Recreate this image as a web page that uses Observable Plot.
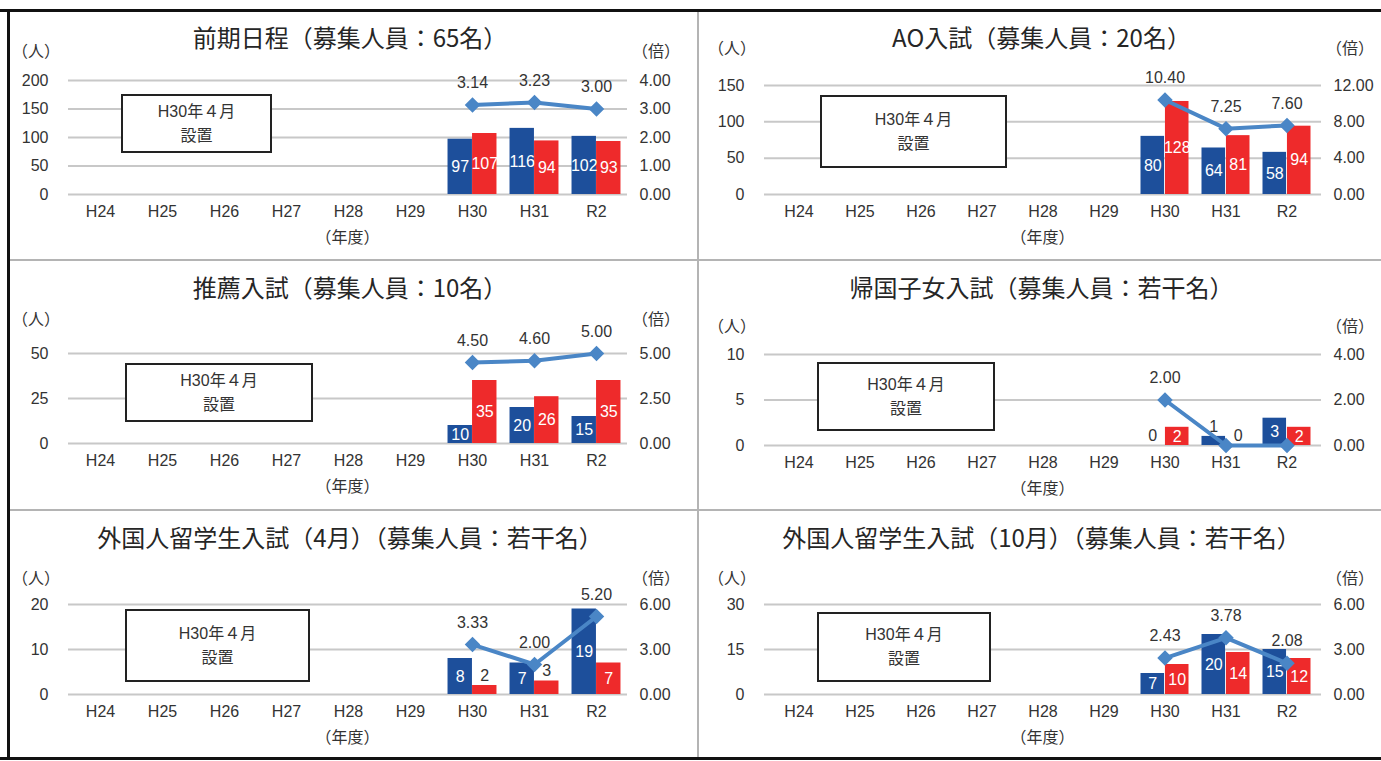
<!DOCTYPE html>
<html><head><meta charset="utf-8">
<script src="https://cdn.jsdelivr.net/npm/d3@7"></script>
<script src="https://cdn.jsdelivr.net/npm/@observablehq/plot@0.6"></script>
<style>
body{margin:0;background:#fff;}
#root{position:relative;width:1381px;height:761px;overflow:hidden;font-family:"Liberation Sans","Noto Sans CJK JP",sans-serif;color:#333;}
.abs{position:absolute;}
.title{font-family:"Noto Sans CJK JP",sans-serif;font-size:24px;color:#262626;white-space:nowrap;transform:translate(-50%,-50%);line-height:1;}
.unit{font-family:"Noto Sans CJK JP",sans-serif;font-size:16px;color:#333;white-space:nowrap;transform:translateY(-50%);line-height:1;}
.xunit{font-family:"Noto Sans CJK JP",sans-serif;font-size:16px;color:#333;white-space:nowrap;transform:translate(-50%,-50%);line-height:1;}
.note{border:2px solid #222;background:#fff;box-sizing:border-box;display:flex;flex-direction:column;align-items:center;justify-content:center;font-size:16px;line-height:24px;color:#333;font-family:"Liberation Sans","Noto Sans CJK JP",sans-serif;}
.line{background:#111;}
.div{background:#b4b4b4;}
</style>
</head><body><div id="root"></div>
<script>
// ---- data ----
const years = ["H24","H25","H26","H27","H28","H29","H30","H31","R2"];
const dataYears = ["H30","H31","R2"];
const titles = [
  "前期日程（募集人員：65名）",
  "AO入試（募集人員：20名）",
  "推薦入試（募集人員：10名）",
  "帰国子女入試（募集人員：若干名）",
  "外国人留学生入試（4月）（募集人員：若干名）",
  "外国人留学生入試（10月）（募集人員：若干名）"
];
const barsBlue = [[97,116,102],[80,64,58],[10,20,15],[0,1,3],[8,7,19],[7,20,15]];
const barsRed  = [[107,94,93],[128,81,94],[35,26,35],[2,0,2],[2,3,7],[10,14,12]];
const ratios   = [[3.14,3.23,3.00],[10.40,7.25,7.60],[4.50,4.60,5.00],[2.00,0,0],[3.33,2.00,5.20],[2.43,3.78,2.08]];
const leftTicks  = [[0,50,100,150,200],[0,50,100,150],[0,25,50],[0,5,10],[0,10,20],[0,15,30]];
const rightTicks = [[0,1,2,3,4],[0,4,8,12],[0,2.5,5],[0,2,4],[0,3,6],[0,3,6]];
const noteLines = ["H30年４月","設置"];
const unitLeft = "（人）", unitRight = "（倍）", xUnit = "（年度）";

// ---- layout & style ----
const BLUE = "#1d4f9b", RED = "#ee2a2b", LINE = "#4a86c6", TXT = "#333";
const FONT = '"Liberation Sans","Noto Sans CJK JP",sans-serif';
const layout = [
  {x0:8,  y0:10,  w:690, h:250, L:68,  R:627,  T:80,  B:194, uy:50,  box:[121,94,151,59]},
  {x0:698,y0:10,  w:683, h:250, L:764, R:1321, T:85,  B:194, uy:47,  box:[820,95,187,73]},
  {x0:8,  y0:260, w:690, h:250, L:68,  R:627,  T:353, B:443, uy:318, box:[125,363,188,59]},
  {x0:698,y0:260, w:683, h:250, L:764, R:1321, T:354, B:445, uy:325, box:[817,362,178,69]},
  {x0:8,  y0:510, w:690, h:248, L:68,  R:627,  T:604, B:694, uy:577, box:[125,609,185,73]},
  {x0:698,y0:510, w:683, h:248, L:764, R:1321, T:604, B:694, uy:577, box:[817,612,174,70]}
];

const root = document.getElementById("root");
function add(cls, x, y, w, h, html) {
  const d = document.createElement("div");
  d.className = "abs " + cls;
  d.style.left = x + "px"; d.style.top = y + "px";
  if (w != null) d.style.width = w + "px";
  if (h != null) d.style.height = h + "px";
  if (html != null) d.innerHTML = html;
  root.appendChild(d);
  return d;
}

layout.forEach((p, i) => {
  const band = (p.R - p.L) / years.length;
  const gap = band * 0.105, half = band / 2;
  const off = (half - gap) / 2;
  const ymax = d3.max(leftTicks[i]);
  const k = ymax / d3.max(rightTicks[i]);
  const rows = dataYears.map((yr, j) => ({year: yr, a: barsBlue[i][j], b: barsRed[i][j], r: ratios[i][j]}));
  const inside = v => v / ymax >= 0.16;
  const chart = Plot.plot({
    width: p.w, height: p.h,
    marginLeft: p.L - p.x0, marginRight: p.x0 + p.w - p.R,
    marginTop: p.T - p.y0, marginBottom: p.y0 + p.h - p.B,
    x: {type: "band", domain: years, padding: 0},
    y: {domain: [0, ymax]},
    style: {fontFamily: FONT, fontSize: "16px", color: TXT, background: "transparent", overflow: "visible"},
    marks: [
      Plot.gridY(leftTicks[i], {stroke: "#c8c8c8", strokeOpacity: 1, strokeWidth: 2}),
      Plot.axisY(leftTicks[i], {anchor: "left", tickSize: 0, tickPadding: 20, label: null, fontSize: 16}),
      Plot.axisY(leftTicks[i], {anchor: "right", tickSize: 0, tickPadding: 12, label: null, fontSize: 16,
        tickFormat: d => (d / k).toFixed(2)}),
      Plot.axisX({tickSize: 0, tickPadding: 11, label: null, fontSize: 16}),
      Plot.barY(rows, {x: "year", y: "a", fill: BLUE, insetLeft: gap, insetRight: half}),
      Plot.barY(rows, {x: "year", y: "b", fill: RED, insetLeft: half, insetRight: gap}),
      Plot.text(rows.filter(d => inside(d.a)), {x: "year", y: d => d.a / 2, text: d => String(d.a), dx: -off, fill: "white", fontSize: 16}),
      Plot.text(rows.filter(d => !inside(d.a)), {x: "year", y: "a", text: d => String(d.a), dx: -off, dy: -10, fill: TXT, fontSize: 16}),
      Plot.text(rows.filter(d => inside(d.b)), {x: "year", y: d => d.b / 2, text: d => String(d.b), dx: off, fill: "white", fontSize: 16}),
      Plot.text(rows.filter(d => !inside(d.b)), {x: "year", y: "b", text: d => String(d.b), dx: off, dy: -10, fill: TXT, fontSize: 16}),
      Plot.line(rows, {x: "year", y: d => d.r * k, stroke: LINE, strokeWidth: 4}),
      Plot.dot(rows, {x: "year", y: d => d.r * k, symbol: "diamond2", r: 7, fill: LINE, stroke: "none"}),
      Plot.text(rows.filter(d => d.r > 0), {x: "year", y: d => d.r * k, text: d => d.r.toFixed(2), dy: -22, fill: TXT, fontSize: 16})
    ]
  });
  const holder = add("", p.x0, p.y0, p.w, p.h);
  holder.appendChild(chart);
  add("title", (p.x0 + p.x0 + p.w) / 2 + (i % 2 ? 2 : -3), p.y0 + 27, null, null, titles[i]);
  add("unit", p.L - 56, p.uy, null, null, unitLeft);
  add("unit", p.R + 5, p.uy, null, null, unitRight);
  add("xunit", p.L + band * 4.5, p.B + 42, null, null, xUnit);
  const [bx, by, bw, bh] = p.box;
  add("note", bx, by, bw, bh, noteLines.map(s => `<div>${s}</div>`).join(""));
});

// panel frame lines
add("div", 697, 10, 2, 748);
add("div", 8, 259, 1373, 2);
add("div", 8, 509, 1373, 2);
add("line", 0, 9, 1381, 3);
add("line", 7, 9, 3, 751);
add("line", 0, 757, 1381, 3);
</script>
</body></html>
